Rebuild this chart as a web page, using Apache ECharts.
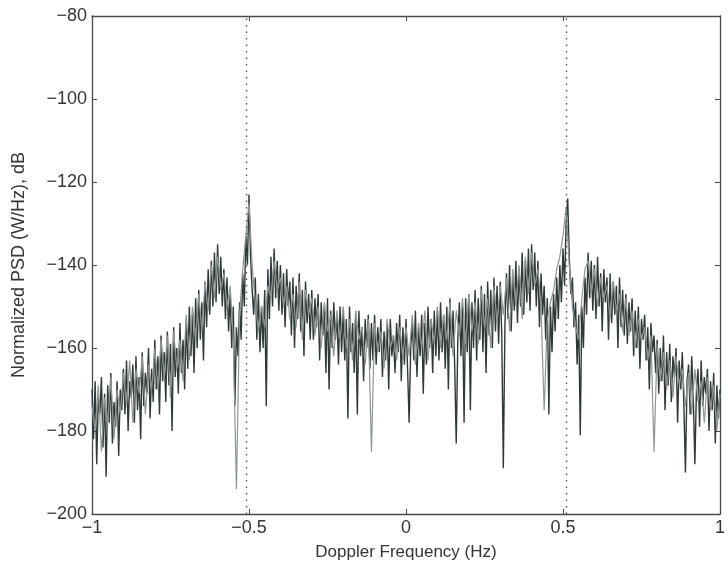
<!DOCTYPE html>
<html><head><meta charset="utf-8">
<script src="https://cdn.jsdelivr.net/npm/echarts@6/dist/echarts.min.js"></script>
<style>html,body{margin:0;padding:0;background:#fff}#c{width:728px;height:577px}</style>
</head><body><div id="c"></div>
<script>
// Frequency grids (Hz): start and step of the sampled spectrum
const darkStart = -1, darkStep = 0.005;
const grayStart = -1, grayStep = 0.01;

// Dark trace, PSD in dB (401 samples)
const psdDark = [
 -170,-182,-168,-188,-172,-176,-167,-184,-171,-191,-169,-178,-166,-183,-173,-179,-168,-186,-170,-175,
 -165,-176,-163,-180,-168,-172,-164,-178,-162,-175,-167,-182,-161,-174,-166,-171,-160,-177,-165,-173,
 -158,-170,-162,-176,-157,-168,-161,-173,-156,-169,-159,-180,-155,-167,-160,-171,-154,-166,-158,-170,
 -153,-165,-150,-162,-152,-166,-148,-160,-146,-158,-149,-163,-144,-155,-141,-152,-139,-150,-137,-149,
 -135,-147,-138,-150,-141,-153,-143,-156,-147,-160,-150,-174,-155,-162,-149,-158,-142,-150,-133,-140,
 -123,-138,-146,-152,-143,-158,-147,-161,-150,-160,-146,-174,-141,-153,-138,-150,-136,-148,-139,-151,
 -140,-152,-142,-155,-141,-150,-144,-157,-143,-160,-145,-153,-142,-156,-146,-162,-144,-154,-147,-158,
 -146,-158,-148,-155,-147,-163,-149,-157,-150,-166,-148,-170,-151,-160,-149,-158,-152,-164,-150,-161,
 -151,-163,-153,-177,-150,-161,-154,-166,-152,-176,-151,-162,-155,-168,-153,-160,-152,-165,-154,-163,
 -152,-164,-155,-161,-153,-167,-156,-163,-154,-170,-153,-162,-157,-166,-154,-161,-152,-168,-155,-164,
 -153,-165,-178,-160,-154,-163,-151,-167,-155,-162,-152,-171,-154,-164,-150,-160,-153,-166,-151,-162,
 -151,-163,-149,-161,-152,-165,-150,-170,-148,-160,-151,-164,-183,-158,-149,-162,-150,-178,-148,-161,
 -147,-175,-149,-160,-146,-163,-148,-158,-145,-161,-147,-166,-144,-157,-146,-160,-143,-156,-145,-159,
 -144,-157,-189,-155,-142,-153,-140,-156,-143,-151,-139,-154,-141,-150,-137,-152,-139,-149,-136,-151,
 -135,-146,-137,-150,-139,-155,-142,-152,-145,-158,-148,-176,-150,-161,-147,-156,-143,-153,-140,-149,
 -136,-145,-130,-124,-138,-147,-143,-155,-149,-164,-152,-181,-150,-160,-143,-152,-137,-148,-139,-151,
 -140,-153,-138,-150,-142,-156,-141,-149,-143,-158,-142,-154,-144,-152,-145,-160,-143,-155,-146,-157,
 -147,-159,-149,-156,-148,-162,-151,-160,-150,-165,-153,-158,-152,-163,-155,-170,-154,-161,-157,-166,
 -158,-171,-160,-168,-157,-175,-161,-169,-159,-173,-162,-167,-160,-178,-163,-170,-161,-174,-190,-168,
 -164,-176,-162,-172,-188,-170,-165,-179,-163,-174,-167,-171,-165,-180,-168,-175,-166,-183,-169,-177,
 -170
];

// Light gray trace, PSD in dB (201 samples)
const psdGray = [
 -174,-180,-169,-185,-172,-178,-167,-182,-170,-176,
 -166,-174,-163,-178,-165,-171,-162,-176,-164,-170,
 -160,-170,-158,-167,-157,-172,-156,-165,-158,-168,
 -152,-163,-150,-158,-147,-156,-144,-151,-140,-148,
 -138,-146,-142,-150,-145,-158,-194,-152,-141,-133,
 -125,-140,-149,-156,-150,-155,-145,-148,-139,-146,
 -143,-150,-145,-153,-147,-155,-144,-158,-146,-152,
 -148,-157,-150,-160,-149,-156,-152,-162,-151,-158,
 -150,-160,-153,-163,-151,-158,-155,-164,-153,-185,
 -154,-161,-156,-165,-153,-160,-157,-163,-155,-162,
 -155,-162,-152,-164,-154,-160,-151,-163,-153,-159,
 -150,-160,-152,-158,-149,-162,-151,-157,-148,-159,
 -147,-156,-149,-159,-146,-155,-148,-160,-145,-154,
 -145,-152,-143,-156,-141,-150,-140,-153,-138,-147,
 -137,-145,-141,-150,-175,-153,-149,-146,-141,-138,
 -133,-126,-140,-150,-155,-158,-148,-141,-139,-147,
 -141,-150,-143,-148,-145,-153,-144,-151,-147,-156,
 -148,-157,-151,-160,-153,-158,-155,-163,-157,-185,
 -159,-168,-161,-170,-163,-172,-162,-169,-165,-174,
 -166,-176,-165,-173,-168,-178,-167,-175,-169,-180,
 -171
];

// Dotted reference lines (Hz)
const refLines = [-0.513, 0.513];

// Axis settings
const xMin = -1, xMax = 1, xInterval = 0.5;
const yMin = -200, yMax = -80, yInterval = 20;
const xTitle = 'Doppler Frequency (Hz)';
const yTitle = 'Normalized PSD (W/Hz), dB';

const darkData = psdDark.map((v, i) => [darkStart + i * darkStep, v]);
const grayData = psdGray.map((v, i) => [grayStart + i * grayStep, v]);

const fmt = v => {
  const s = String(Math.round(v * 1000) / 1000);
  return s.replace('-', '\u2212');
};
const font = 'Liberation Sans, Arial, sans-serif';
const axCol = '#454a4a';
const txtCol = '#333636';

const chart = echarts.init(document.getElementById('c'), null, {renderer: 'canvas'});
chart.setOption({
  animation: false,
  backgroundColor: '#fff',
  grid: {left: 92, right: 2, top: 16, bottom: 63, containLabel: false},
  xAxis: [{
    type: 'value', min: xMin, max: xMax, interval: xInterval, position: 'bottom',
    name: xTitle, nameLocation: 'middle', nameGap: 30,
    nameTextStyle: {fontFamily: font, fontSize: 17, color: txtCol},
    axisLine: {show: true, onZero: false, lineStyle: {color: axCol, width: 1.3}},
    axisTick: {show: true, inside: true, length: 5, lineStyle: {color: axCol}},
    axisLabel: {formatter: fmt, fontFamily: font, fontSize: 18, color: txtCol, margin: 5},
    splitLine: {show: false}
  }, {
    type: 'value', min: xMin, max: xMax, interval: xInterval, position: 'top',
    axisLine: {show: true, onZero: false, lineStyle: {color: axCol, width: 1.3}},
    axisTick: {show: true, inside: true, length: 5, lineStyle: {color: axCol}},
    axisLabel: {show: false}, splitLine: {show: false}
  }],
  yAxis: [{
    type: 'value', min: yMin, max: yMax, interval: yInterval, position: 'left',
    name: yTitle, nameLocation: 'middle', nameGap: 64, nameRotate: 90,
    nameTextStyle: {fontFamily: font, fontSize: 18, color: txtCol},
    axisLine: {show: true, onZero: false, lineStyle: {color: axCol, width: 1.3}},
    axisTick: {show: true, inside: true, length: 5, lineStyle: {color: axCol}},
    axisLabel: {formatter: fmt, fontFamily: font, fontSize: 18, color: txtCol, margin: 5},
    splitLine: {show: false}
  }, {
    type: 'value', min: yMin, max: yMax, interval: yInterval, position: 'right',
    axisLine: {show: true, onZero: false, lineStyle: {color: axCol, width: 1.3}},
    axisTick: {show: true, inside: true, length: 5, lineStyle: {color: axCol}},
    axisLabel: {show: false}, splitLine: {show: false}
  }],
  series: [{
    type: 'line', data: darkData, xAxisIndex: 0, yAxisIndex: 0,
    showSymbol: false, symbol: 'none', silent: true,
    lineStyle: {color: '#2f3939', width: 1.4},
    markLine: {
      silent: true, symbol: 'none', label: {show: false},
      lineStyle: {color: '#555', type: [1.5, 5], width: 1.4},
      data: refLines.map(v => ({xAxis: v}))
    }
  }, {
    type: 'line', data: grayData, xAxisIndex: 0, yAxisIndex: 0,
    showSymbol: false, symbol: 'none', silent: true,
    lineStyle: {color: '#8f9494', width: 1.2}
  }]
});
</script></body></html>
